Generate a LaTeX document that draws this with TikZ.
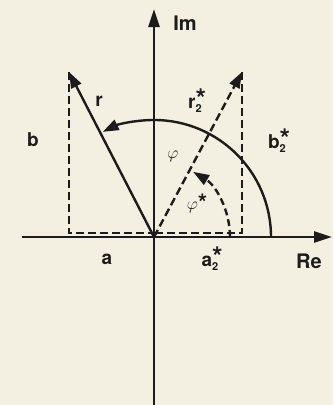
\documentclass[tikz,border=0pt]{standalone}
\usepackage{amsmath}
\usepackage{fontspec}
\setmainfont{TeX Gyre Heros}
\usetikzlibrary{arrows.meta}
\definecolor{paper}{HTML}{F3F0E1}
\definecolor{ink}{HTML}{1C1C1C}

\tikzset{
  axisline/.style={draw=ink, line width=2.6pt, -{Triangle[length=18pt,width=11pt]}},
  vecline/.style={draw=ink, line width=2.4pt, -{Triangle[length=16pt,width=11pt]}},
  projline/.style={draw=ink, line width=2.6pt, dash pattern=on 8pt off 4pt},
  lbl/.style={text=ink, font=\fontsize{19}{21}\selectfont\bfseries, inner sep=0pt},
  anglbl/.style={text=ink, font=\fontsize{19}{20}\selectfont, inner sep=0pt},
}
% letter with subscript 2 and a star above it
\newcommand{\starred}[1]{#1\rlap{\fontsize{27}{27}\selectfont\bfseries *}\raisebox{-4pt}{\fontsize{11}{11}\selectfont\bfseries 2}}

\begin{document}
\begin{tikzpicture}[x=1pt, y=1pt]
    \fill[paper] (-154,-168) rectangle (179,237);
    \useasboundingbox (-154,-168) rectangle (179,237);
    % axes
    \coordinate (O) at (0,0);
    \coordinate (reL) at (-132,0);
    \coordinate (reR) at (178,0);
    \coordinate (imB) at (0,-168);
    \coordinate (imT) at (0,228);
    \draw[axisline] (reL) -- (reR);
    \draw[axisline] (imB) -- (imT);
    % vectors and their parts
    \coordinate (rtip) at (-85,165);
    \coordinate (rstip) at (88,165);
    \coordinate (bfoot) at (-85,4);
    \coordinate (bsfoot) at (88,4);
    \coordinate (O2) at (0,4);
    \draw[vecline] (O) -- (rtip);
    \draw[vecline, dash pattern=on 8pt off 4pt] (O) -- (rstip);
    \draw[projline] (rtip) -- (bfoot) -- (O2);
    \draw[projline] (rstip) -- (bsfoot) -- (O2);
    % angles
    \coordinate (phi0) at (117,0);
    \coordinate (phis0) at (76,0);
    \draw[vecline] (phi0) arc[start angle=0, end angle=116, radius=117];
    \draw[vecline, dash pattern=on 7pt off 4pt] (phis0) arc[start angle=0, end angle=59, radius=76];
    % labels
    \node[lbl, font=\fontsize{20}{22}\selectfont\bfseries] (imlbl) at (31,214) {Im};
    \node[lbl, font=\fontsize{20}{22}\selectfont\bfseries] (relbl) at (155,-24) {Re};
    \node[lbl] (rlbl) at (-55,136) {r};
    \node[lbl] (rslbl) at (41,136) {\starred{r}};
    \node[lbl] (blbl) at (-121,97) {b};
    \node[lbl] (bslbl) at (123,96) {\starred{b}};
    \node[lbl] (albl) at (-47,-22) {a};
    \node[lbl] (aslbl) at (56,-22) {\starred{a}};
    \node[anglbl] (philbl) at (19,81) {$\varphi$};
    \node[anglbl] (phislbl) at (43,34) {$\varphi$\raisebox{-2pt}{\fontsize{24}{24}\selectfont\bfseries *}};
\end{tikzpicture}
\end{document}
